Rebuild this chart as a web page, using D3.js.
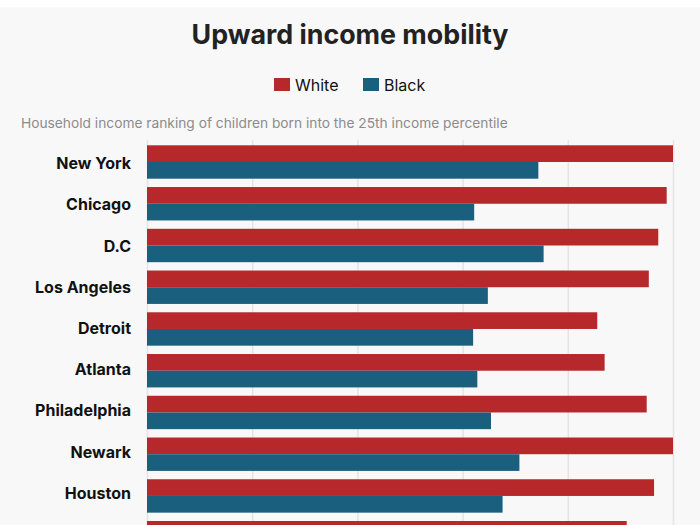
<!DOCTYPE html>
<html>
<head>
<meta charset="utf-8">
<script src="https://cdn.jsdelivr.net/npm/d3@7"></script>
<style>
  html, body { margin: 0; padding: 0; background: #ffffff; }
  svg { display: block; }
</style>
</head>
<body>
<svg id="chart" width="700" height="525"></svg>
<script>
const cities = ["New York", "Chicago", "D.C", "Los Angeles", "Detroit", "Atlanta", "Philadelphia", "Newark", "Houston", "Dallas"];
const whiteValues = [50.0, 49.4, 48.6, 47.7, 42.8, 43.5, 47.5, 50.0, 48.2, 45.6];
const blackValues = [37.2, 31.1, 37.7, 32.4, 31.0, 31.4, 32.7, 35.4, 33.8, 32.0];
const seriesNames = ["White", "Black"];
const seriesColors = ["#b7282b", "#1b5f7e"];
const xTicks = [0, 10, 20, 30, 40, 50];

const svg = d3.select("#chart");
const W = 700, H = 525;

svg.append("rect").attr("x", 0).attr("y", 7).attr("width", W).attr("height", H - 7).attr("fill", "#f8f8f8");

svg.append("text")
  .attr("x", 350).attr("y", 44)
  .attr("text-anchor", "middle")
  .attr("font-family", "Inter, Roboto, sans-serif")
  .attr("font-weight", 700)
  .attr("font-size", 26.8)
  .attr("fill", "#222")
  .text("Upward income mobility");

// legend
const legend = svg.append("g");
const legendItems = [{x: 274, name: seriesNames[0], color: seriesColors[0]}, {x: 363, name: seriesNames[1], color: seriesColors[1]}];
legendItems.forEach(d => {
  legend.append("rect").attr("x", d.x).attr("y", 78).attr("width", 16).attr("height", 13).attr("fill", d.color);
  legend.append("text").attr("x", d.x + 21).attr("y", 90.5)
    .attr("font-family", "Inter, Roboto, sans-serif").attr("font-size", 16).attr("fill", "#111")
    .text(d.name);
});

svg.append("text")
  .attr("x", 21).attr("y", 128)
  .attr("font-family", "Inter, Roboto, sans-serif")
  .attr("font-size", 13.75)
  .attr("fill", "#8c8c8c")
  .text("Household income ranking of children born into the 25th income percentile");

const x = d3.scaleLinear().domain([0, 50]).range([147, 673]);
const y = d3.scaleBand().domain(cities).range([145.3, 554.4]).paddingInner(0.2).paddingOuter(0);
const ySub = d3.scaleBand().domain(seriesNames).range([0, y.bandwidth()]).padding(0);
// category labels sit on their own evenly spaced rows
const yLabel = d3.scalePoint().domain(cities).range([163.5, 163.5 + 9 * 41.2]);

// gridlines via axis (the axis labels themselves lie below the visible area)
const gridAxis = d3.axisBottom(x).tickValues(xTicks).tickSize(-(575 - 140)).tickFormat("");
const g = svg.append("g").attr("transform", "translate(0,575)").call(gridAxis);
g.select(".domain").remove();
g.selectAll(".tick line").attr("stroke", "#e4e4e4").attr("stroke-width", 1.5);

const rows = svg.append("g").selectAll("g").data(cities).join("g")
  .attr("transform", d => `translate(0,${y(d)})`);

rows.append("rect")
  .attr("x", x(0)).attr("y", ySub("White"))
  .attr("width", (d, i) => x(whiteValues[i]) - x(0))
  .attr("height", ySub.bandwidth())
  .attr("fill", seriesColors[0]);

rows.append("rect")
  .attr("x", x(0)).attr("y", ySub("Black"))
  .attr("width", (d, i) => x(blackValues[i]) - x(0))
  .attr("height", ySub.bandwidth())
  .attr("fill", seriesColors[1]);

svg.append("g").selectAll("text")
  .data(cities.filter(c => yLabel(c) + 8 < H))
  .join("text")
  .attr("x", 131).attr("y", d => yLabel(d))
  .attr("dy", "0.35em")
  .attr("text-anchor", "end")
  .attr("font-family", "Inter, Roboto, sans-serif")
  .attr("font-weight", 700)
  .attr("font-size", 16)
  .attr("fill", "#111")
  .text(d => d);
</script>
</body>
</html>
